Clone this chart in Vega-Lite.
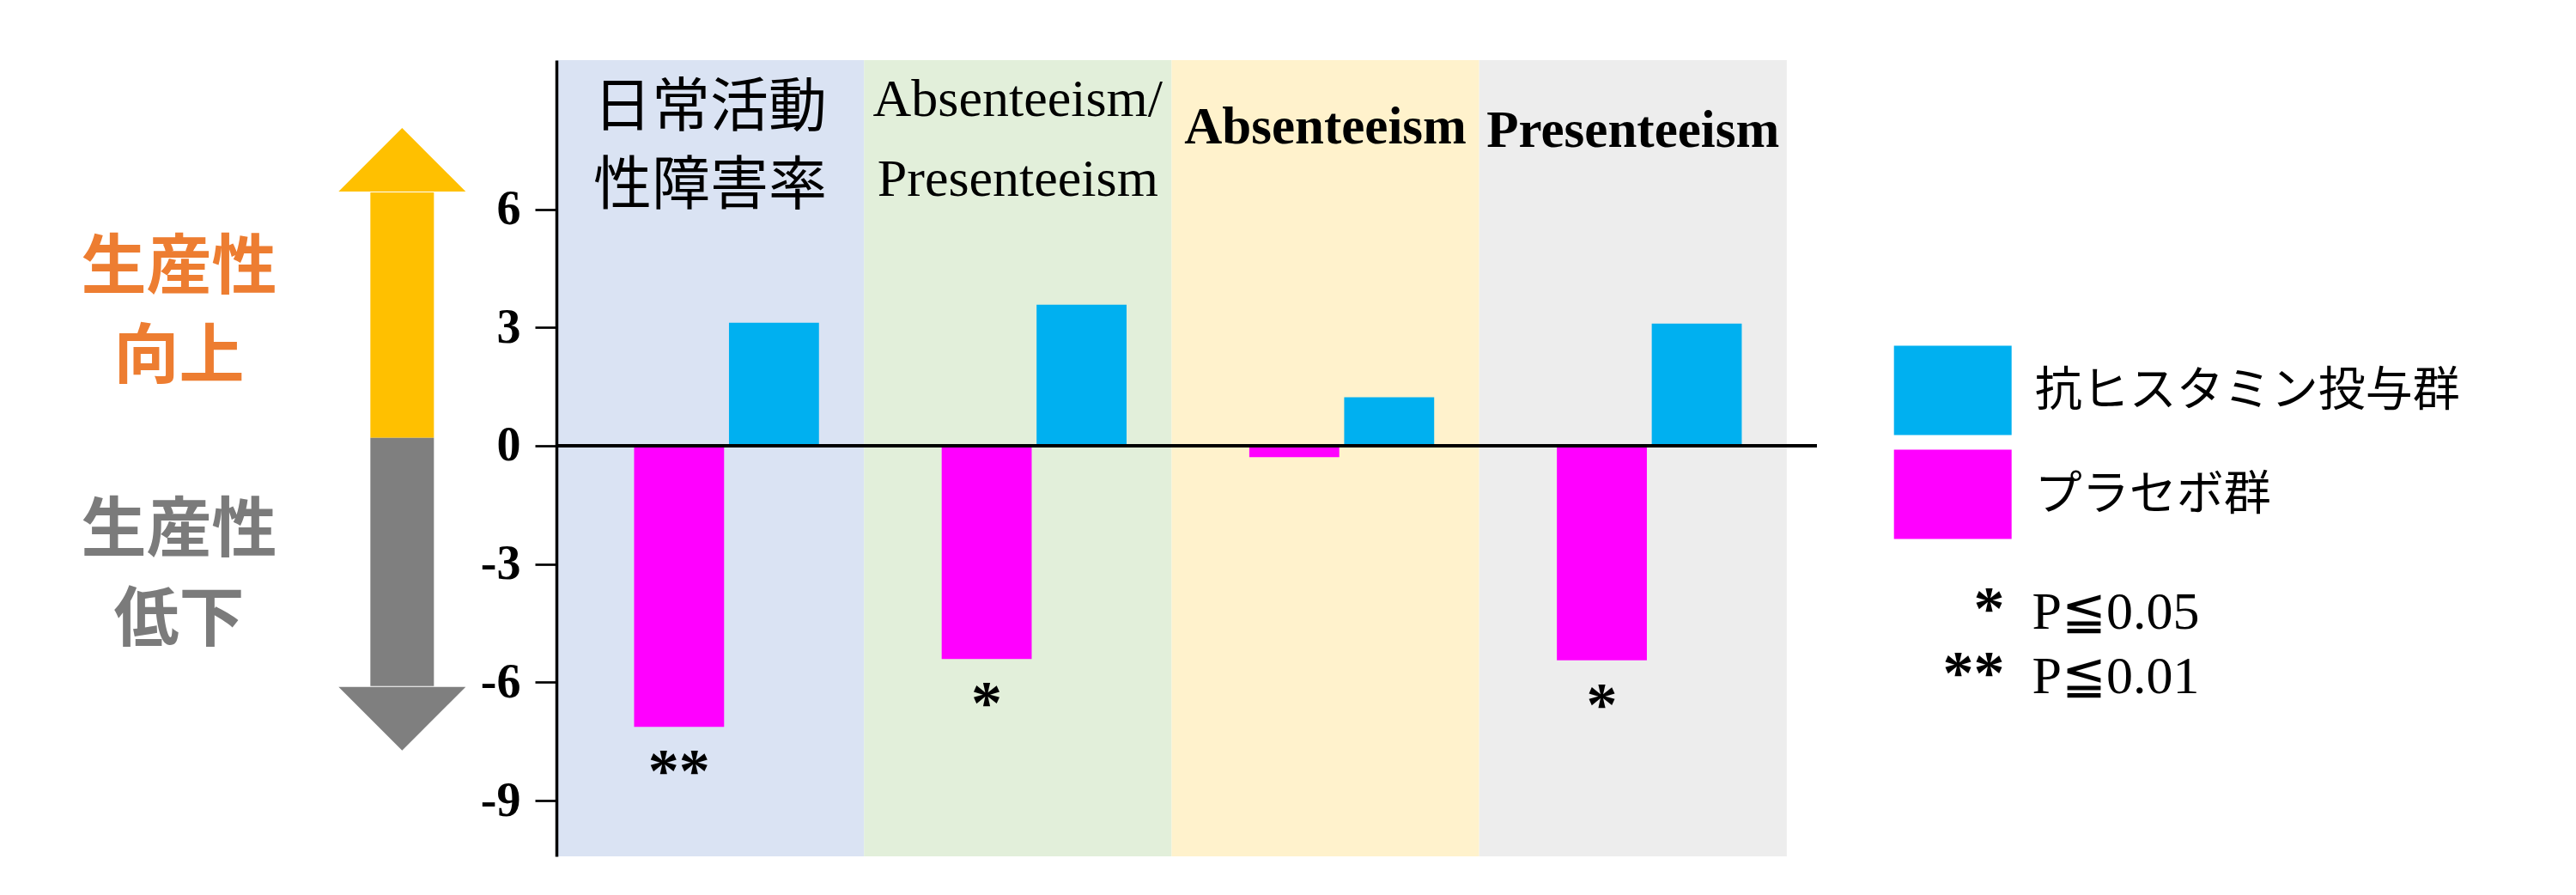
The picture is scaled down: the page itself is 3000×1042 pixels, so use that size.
{
  "$schema": "https://vega.github.io/schema/vega-lite/v6.json",
  "width": 1468,
  "height": 927,
  "autosize": {"type": "none"},
  "padding": {"left": 648, "top": 70, "right": 884, "bottom": 45},
  "background": "white",
  "config": {"view": {"stroke": null}},
  "datasets": {
    "bars": [
      {"項目": "日常活動性障害率", "群": "プラセボ群", "値": -7.13, "有意": "**"},
      {"項目": "日常活動性障害率", "群": "抗ヒスタミン投与群", "値": 3.12},
      {"項目": "Absenteeism/Presenteeism", "群": "プラセボ群", "値": -5.41, "有意": "*"},
      {"項目": "Absenteeism/Presenteeism", "群": "抗ヒスタミン投与群", "値": 3.58},
      {"項目": "Absenteeism", "群": "プラセボ群", "値": -0.29},
      {"項目": "Absenteeism", "群": "抗ヒスタミン投与群", "値": 1.23},
      {"項目": "Presenteeism", "群": "プラセボ群", "値": -5.44, "有意": "*"},
      {"項目": "Presenteeism", "群": "抗ヒスタミン投与群", "値": 3.10}
    ],
    "panels": [
      {"項目": "日常活動性障害率", "見出し": "日常活動\n性障害率"},
      {"項目": "Absenteeism/Presenteeism", "見出し": "Absenteeism/\nPresenteeism"},
      {"項目": "Absenteeism", "見出し": "Absenteeism"},
      {"項目": "Presenteeism", "見出し": "Presenteeism"}
    ],
    "arrow": [
      {"方向": "向上", "起点": 0.2, "先端": 8.06, "ラベル": "生産性\n向上"},
      {"方向": "低下", "起点": 0.2, "先端": -7.73, "ラベル": "生産性\n低下"}
    ],
    "notes": [{"記号": "*\n**", "説明": "P≦0.05\nP≦0.01"}]
  },
  "layer": [
    {
      "layer": [
        {
          "data": {"name": "panels"},
          "mark": {"type": "bar", "cornerRadius": 0},
          "encoding": {
            "x": {"field": "項目", "type": "nominal", "axis": null, "sort": null,
                  "scale": {"domain": ["日常活動性障害率", "Absenteeism/Presenteeism", "Absenteeism", "Presenteeism"], "paddingInner": 0, "paddingOuter": 0.049, "align": 0}},
            "y": {"datum": 9.784, "type": "quantitative", "scale": {"domain": [-10.416, 9.784], "nice": false, "zero": false}},
            "y2": {"datum": -10.416},
            "fill": {"field": "項目", "type": "nominal", "legend": null,
                     "scale": {"domain": ["日常活動性障害率", "Absenteeism/Presenteeism", "Absenteeism", "Presenteeism"], "range": ["#DAE3F3", "#E2EFDA", "#FFF2CC", "#EDEDED"]}}
          }
        },
        {
          "data": {"name": "bars"},
          "mark": {"type": "bar", "cornerRadius": 0},
          "encoding": {
            "x": {"field": "項目", "type": "nominal", "axis": null, "sort": null},
            "xOffset": {"field": "群", "type": "nominal",
                        "scale": {"domain": ["プラセボ群", "抗ヒスタミン投与群"], "paddingInner": 0.0516, "paddingOuter": 0.6466, "align": 0.633}},
            "y": {"field": "値", "type": "quantitative",
                  "scale": {"domain": [-10.416, 9.784], "nice": false, "zero": false},
                  "axis": {"values": [6, 3, 0, -3, -6, -9], "labelExpr": "'' + datum.value", "title": null, "grid": false, "zindex": 2,
                           "domainColor": "black", "domainWidth": 3.5, "tickColor": "black", "tickWidth": 2.7, "tickSize": 25,
                           "labelFont": "Liberation Serif", "labelFontWeight": "bold", "labelFontSize": 56, "labelColor": "black", "labelPadding": 17}},
            "color": {"field": "群", "type": "nominal",
                      "scale": {"domain": ["抗ヒスタミン投与群", "プラセボ群"], "range": ["#00B0F0", "#FF00FF"]},
                      "legend": {"orient": "none", "legendX": 1557.7, "legendY": 316, "title": null,
                                 "symbolType": "M-1,-0.76L1,-0.76L1,0.76L-1,0.76Z", "symbolSize": 18769, "symbolStrokeWidth": 0, "symbolOpacity": 1,
                                 "labelFont": "Noto Sans CJK JP", "labelFontSize": 55, "labelColor": "black", "labelOffset": 27,
                                 "rowPadding": -16.7, "padding": 0, "labelLimit": 1000}}
          }
        },
        {
          "data": {"name": "bars"},
          "mark": {"type": "rule", "color": "black", "strokeWidth": 4},
          "encoding": {"y": {"datum": 0, "type": "quantitative"}}
        },
        {
          "data": {"name": "bars"},
          "transform": [{"filter": "isValid(datum['有意'])"}],
          "mark": {"type": "text", "baseline": "top", "dy": 18, "font": "Liberation Serif", "fontWeight": "bold", "fontSize": 72, "letterSpacing": 3, "color": "black"},
          "encoding": {
            "x": {"field": "項目", "type": "nominal", "axis": null, "sort": null},
            "xOffset": {"field": "群", "type": "nominal"},
            "y": {"field": "値", "type": "quantitative"},
            "text": {"field": "有意"}
          }
        },
        {
          "data": {"name": "panels"},
          "transform": [{"filter": "datum['項目'] === '日常活動性障害率'"}],
          "mark": {"type": "text", "baseline": "alphabetic", "lineBreak": "\n", "lineHeight": 91, "font": "Noto Sans CJK JP", "fontSize": 68, "letterSpacing": 4, "color": "black"},
          "encoding": {
            "x": {"field": "項目", "type": "nominal", "axis": null, "sort": null},
            "y": {"datum": 8.106, "type": "quantitative"},
            "text": {"field": "見出し"}
          }
        },
        {
          "data": {"name": "panels"},
          "transform": [{"filter": "datum['項目'] === 'Absenteeism/Presenteeism'"}],
          "mark": {"type": "text", "baseline": "alphabetic", "lineBreak": "\n", "lineHeight": 93, "font": "Liberation Serif", "fontSize": 62, "color": "black"},
          "encoding": {
            "x": {"field": "項目", "type": "nominal", "axis": null, "sort": null},
            "y": {"datum": 8.368, "type": "quantitative"},
            "text": {"field": "見出し"}
          }
        },
        {
          "data": {"name": "panels"},
          "transform": [{"filter": "datum['項目'] === 'Absenteeism'"}],
          "mark": {"type": "text", "baseline": "alphabetic", "font": "Liberation Serif", "fontWeight": "bold", "fontSize": 61, "color": "black"},
          "encoding": {
            "x": {"field": "項目", "type": "nominal", "axis": null, "sort": null},
            "y": {"datum": 7.671, "type": "quantitative"},
            "text": {"field": "見出し"}
          }
        },
        {
          "data": {"name": "panels"},
          "transform": [{"filter": "datum['項目'] === 'Presenteeism'"}],
          "mark": {"type": "text", "baseline": "alphabetic", "font": "Liberation Serif", "fontWeight": "bold", "fontSize": 61, "color": "black"},
          "encoding": {
            "x": {"field": "項目", "type": "nominal", "axis": null, "sort": null},
            "y": {"datum": 7.583, "type": "quantitative"},
            "text": {"field": "見出し"}
          }
        }
      ]
    },
    {
      "layer": [
        {
          "data": {"name": "arrow"},
          "transform": [{"filter": "datum['方向'] === '向上'"}],
          "mark": {"type": "bar", "color": "#FFC000", "y2Offset": 75, "cornerRadius": 0},
          "encoding": {
            "x": {"datum": -0.5, "type": "quantitative", "axis": null, "scale": {"domain": [2.428, 22.266], "nice": false, "zero": false}},
            "x2": {"datum": 0.5},
            "y": {"field": "起点", "type": "quantitative", "scale": {"domain": [-10.416, 9.784], "nice": false, "zero": false}},
            "y2": {"field": "先端"}
          }
        },
        {
          "data": {"name": "arrow"},
          "transform": [{"filter": "datum['方向'] === '低下'"}],
          "mark": {"type": "bar", "color": "#7F7F7F", "y2Offset": -75, "cornerRadius": 0},
          "encoding": {
            "x": {"datum": -0.5, "type": "quantitative"},
            "x2": {"datum": 0.5},
            "y": {"field": "起点", "type": "quantitative"},
            "y2": {"field": "先端"}
          }
        },
        {
          "data": {"name": "arrow"},
          "transform": [{"filter": "datum['方向'] === '向上'"}],
          "mark": {"type": "point", "shape": "M0,0L1,1L-1,1Z", "size": 21904, "filled": true, "opacity": 1, "color": "#FFC000", "strokeWidth": 0},
          "encoding": {
            "x": {"datum": 0, "type": "quantitative"},
            "y": {"field": "先端", "type": "quantitative"}
          }
        },
        {
          "data": {"name": "arrow"},
          "transform": [{"filter": "datum['方向'] === '低下'"}],
          "mark": {"type": "point", "shape": "M0,0L1,-1L-1,-1Z", "size": 21904, "filled": true, "opacity": 1, "color": "#7F7F7F", "strokeWidth": 0},
          "encoding": {
            "x": {"datum": 0, "type": "quantitative"},
            "y": {"field": "先端", "type": "quantitative"}
          }
        },
        {
          "data": {"name": "arrow"},
          "transform": [{"filter": "datum['方向'] === '向上'"}],
          "mark": {"type": "text", "baseline": "alphabetic", "lineBreak": "\n", "lineHeight": 104, "font": "Noto Sans CJK JP", "fontWeight": "bold", "fontSize": 76, "letterSpacing": 9, "color": "#ED7D31"},
          "encoding": {
            "x": {"datum": -3.512, "type": "quantitative"},
            "y": {"datum": 3.99, "type": "quantitative"},
            "text": {"field": "ラベル"}
          }
        },
        {
          "data": {"name": "arrow"},
          "transform": [{"filter": "datum['方向'] === '低下'"}],
          "mark": {"type": "text", "baseline": "alphabetic", "lineBreak": "\n", "lineHeight": 104, "font": "Noto Sans CJK JP", "fontWeight": "bold", "fontSize": 76, "letterSpacing": 9, "color": "#7B7B7B"},
          "encoding": {
            "x": {"datum": -3.512, "type": "quantitative"},
            "y": {"datum": -2.68, "type": "quantitative"},
            "text": {"field": "ラベル"}
          }
        },
        {
          "data": {"name": "notes"},
          "mark": {"type": "text", "align": "right", "baseline": "alphabetic", "lineBreak": "\n", "lineHeight": 75, "font": "Liberation Serif", "fontWeight": "bold", "fontSize": 72, "letterSpacing": 2, "color": "black"},
          "encoding": {
            "x": {"datum": 25.22, "type": "quantitative"},
            "y": {"datum": -4.64, "type": "quantitative"},
            "text": {"field": "記号"}
          }
        },
        {
          "data": {"name": "notes"},
          "mark": {"type": "text", "align": "left", "baseline": "alphabetic", "lineBreak": "\n", "lineHeight": 75, "font": "Liberation Serif", "fontSize": 62, "color": "black"},
          "encoding": {
            "x": {"datum": 25.65, "type": "quantitative"},
            "y": {"datum": -4.64, "type": "quantitative"},
            "text": {"field": "説明"}
          }
        }
      ]
    }
  ],
  "resolve": {"scale": {"x": "independent"}}
}
